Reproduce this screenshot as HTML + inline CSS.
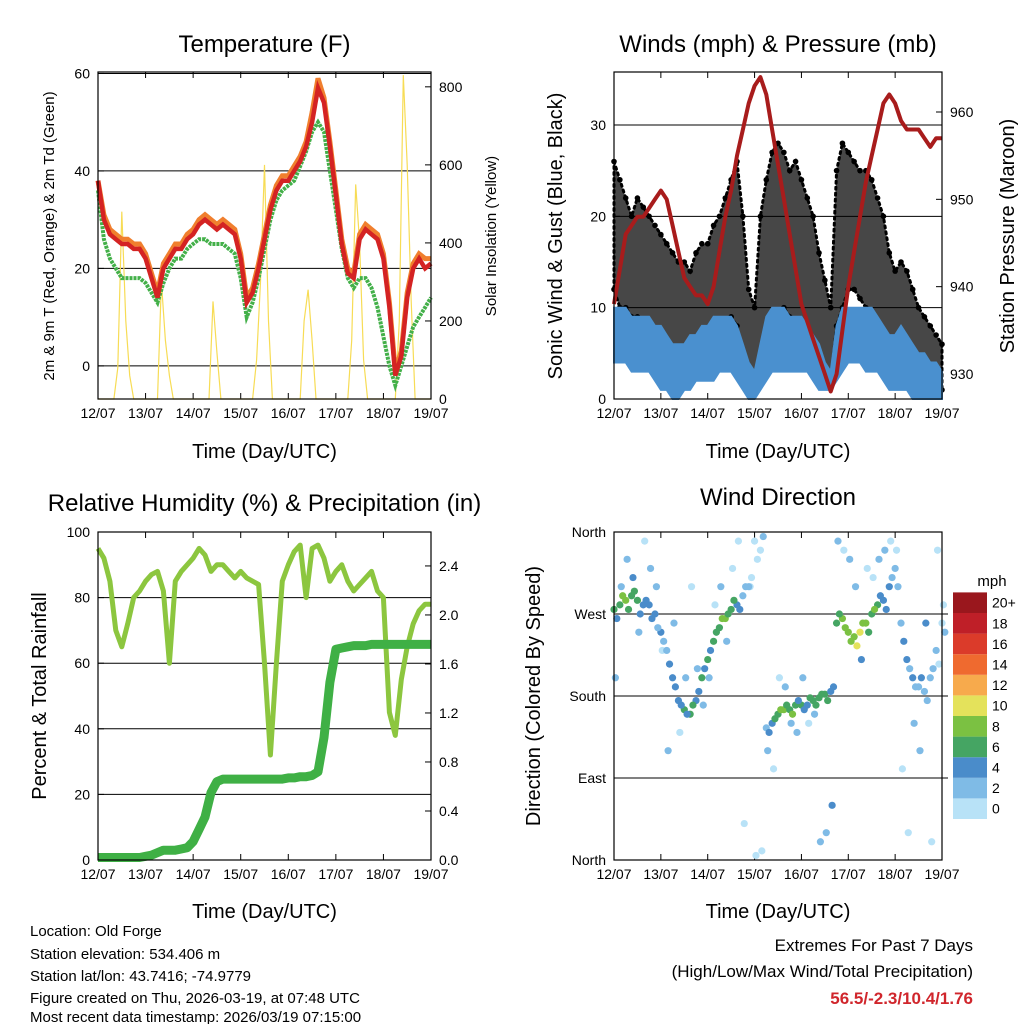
<!DOCTYPE html>
<html><head><meta charset="utf-8">
<style>
body{margin:0;background:#fff;}
svg{display:block;font-family:"Liberation Sans",Arial,sans-serif;}
</style></head>
<body>
<svg id="s" width="1024" height="1024" viewBox="0 0 1024 1024">
<g id="g1"></g>
<g id="g2"></g>
<g id="g3"></g>
<g id="g4"></g>
<g id="txt">
<text x="30" y="936" font-size="15">Location: Old Forge</text>
<text x="30" y="959" font-size="15">Station elevation: 534.406 m</text>
<text x="30" y="981" font-size="15">Station lat/lon: 43.7416; -74.9779</text>
<text x="30" y="1003" font-size="15">Figure created on Thu, 2026-03-19, at 07:48 UTC</text>
<text x="30" y="1025" font-size="15" dy="-3">Most recent data timestamp: 2026/03/19 07:15:00</text>
<text x="973" y="951" font-size="17" text-anchor="end">Extremes For Past 7 Days</text>
<text x="973" y="977" font-size="17" text-anchor="end">(High/Low/Max Wind/Total Precipitation)</text>
<text x="973" y="1004" font-size="17" font-weight="bold" fill="#d0262c" text-anchor="end">56.5/-2.3/10.4/1.76</text>
</g>
</svg>
<script>
const dayLabels=["12/07","13/07","14/07","15/07","16/07","17/07","18/07","19/07"];
// 3-hourly series (57 values, day 12.0 .. 19.0)
const tempT=[38,30,27,26,25,25,24,24, 22,18,14,20,22,24,24,26, 27,29,30,29,28,29,28,27, 22,13,15,20,26,32,36,38, 38,40,42,45,50,57,54,45, 35,25,19,18,26,28,27,26, 22,12,-2,2,14,20,22,20, 21];
const temp9=[38,31,28,27,26,26,25,25, 23,19,15,21,23,25,25,27, 28,30,31,30,29,30,29,28, 23,14,16,21,27,33,37,39, 39,41,43,46,52,59,55,46, 36,26,20,19,27,29,28,27, 23,13,-1,3,15,21,23,22, 22];
const tempTd=[36,26,22,20,18,18,18,18, 17,15,13,17,20,22,22,24, 25,26,26,25,25,25,24,23, 18,10,13,18,24,30,34,36, 37,38,41,44,48,50,48,40, 32,24,18,16,18,18,16,12, 6,0,-4,0,4,8,10,12, 14];
// 2-hourly solar (85 values)
const solar=[0,0,0,0,0,80,480,200,60,0,0,0, 0,0,0,0,300,150,60,0,0,0,0,0, 0,0,0,0,0,250,120,0,0,0,0,0, 0,0,0,0,100,300,600,200,0,0,0,0, 0,0,0,0,200,280,150,0,0,0,0,0, 0,0,0,0,150,550,400,100,0,0,0,0, 0,0,0,0,200,830,600,250,0,0,0,0, 0];
const gustHi=[26,24,22,20,22,21,20,19, 18,17,16,15,15,14,16,17, 17,19,20,22,24,26,20,12, 10,20,24,27,28,27,25,26, 24,22,20,16,13,10,25,28, 27,26,25,25,24,22,20,16, 14,15,14,12,10,9,8,7, 6];
const gustLo=[12,10,10,9,9,8,8,7, 6,5,5,4,3,3,4,5, 6,7,7,8,9,8,4,2, 1,4,6,8,9,10,9,8, 8,6,5,4,2,2,8,10, 12,12,11,10,9,8,6,4, 3,3,3,2,2,2,1,1, 1];
const windHi=[10,10,10,9,9,9,9,8, 8,7,6,6,6,7,7,8, 8,9,9,9,9,8,6,4, 3,6,9,10,10,10,9,9, 9,8,7,6,4,3,8,10, 10,10,10,10,10,9,8,7, 7,8,7,6,5,5,4,4, 3];
const windLo=[4,4,4,3,3,3,3,2, 1,1,0,0,1,1,2,2, 2,2,3,3,3,2,1,0, 0,1,2,3,3,3,3,3, 3,3,2,1,1,1,2,3, 4,4,4,3,3,3,2,1, 1,1,1,0,0,0,0,0, 0];
const pressure=[938,942,946,947,948,948,949,950, 951,950,947,944,941,940,939,939, 938,940,944,948,951,955,958,961, 963,964,962,958,954,950,946,942, 938,936,934,932,930,928,930,935, 940,944,948,952,955,958,961,962, 961,959,958,958,958,957,956,957, 957];
const rh=[95,92,85,70,65,72,80,82, 85,87,88,82,60,85,88,90, 92,95,93,88,90,90,88,86, 88,86,85,84,60,32,60,85, 90,94,96,80,95,96,92,85, 88,90,85,82,84,86,88,82, 80,45,38,55,65,72,76,78, 78];
const precip=[0.02,0.02,0.02,0.02,0.02,0.02,0.02,0.02, 0.03,0.04,0.06,0.08,0.08,0.08,0.09,0.10, 0.15,0.25,0.35,0.55,0.64,0.66,0.66,0.66, 0.66,0.66,0.66,0.66,0.66,0.66,0.66,0.66, 0.67,0.67,0.68,0.68,0.69,0.72,1.00,1.45, 1.72,1.73,1.74,1.75,1.75,1.75,1.76,1.76, 1.76,1.76,1.76,1.76,1.76,1.76,1.76,1.76, 1.76];
const dirA=[275,280,285,290,285,280,280,270, 250,230,200,175,165,160,175,200, 220,240,255,265,275,280,290,300, 350,340,145,150,160,165,165,170, 170,170,175,178,182,185,260,265, 250,245,250,260,270,280,285,300, 320,260,220,200,190,185,200,230, 260];
const spdA=[6,7,8,7,6,5,5,4, 4,3,4,5,6,6,5,6, 6,7,7,8,7,5,3,2, 1,1,3,5,7,8,7,6, 6,5,6,7,6,5,7,9, 8,9,10,8,7,6,5,4, 3,3,4,4,3,3,2,2, 1];
const dirB=[265,290,275,295,270,285,265,255, 240,215,190,170,160,170,185,210, 230,250,265,270,285,275,300,310, 330,355,140,155,165,170,160,175, 165,178,170,182,175,190,270,255, 240,235,260,250,275,290,275,310, 300,240,210,190,200,175,210,215, 250];
const spdB=[5,8,6,6,5,4,4,3, 3,4,5,4,5,7,4,5, 5,6,8,7,6,4,2,1, 0,2,4,6,8,7,8,5, 5,6,7,6,7,4,6,8, 9,10,8,7,8,5,4,3, 2,4,3,3,4,2,3,1, 2];
const dirC=[200,300,330,310,250,350,320,300, 230,120,260,140,200,300,210,170, 200,280,300,240,320,350,40,300, 5,10,120,100,200,190,150,140, 200,150,160,20,30,60,350,340, 330,300,220,320,310,330,340,350, 340,100,30,150,120,260,20,340, 280];
const spdC=[3,2,2,4,2,1,3,2, 1,2,3,1,2,1,3,2, 2,1,3,2,1,0,1,1, 0,1,2,1,1,2,3,2, 3,1,2,3,3,4,3,1, 2,2,4,1,1,3,2,1, 1,0,1,2,3,4,0,1, 0];
const speedBins=["0","2","4","6","8","10","12","14","16","18","20+"];
const binColors=["#b8e2f7","#7fbbe6","#4a8cca","#45a563","#7bc142","#e4e25b","#f7aa4c","#ef6a2f","#db3b2a","#bf1f28","#9a171d"];
const dirLabels=["North","East","South","West","North"];

const NS="http://www.w3.org/2000/svg";
function el(tag,attrs,parent,text){const e=document.createElementNS(NS,tag);for(const k in attrs)e.setAttribute(k,attrs[k]);if(text!==undefined)e.textContent=text;parent.appendChild(e);return e;}
function mkScale(d0,d1,r0,r1){return v=>r0+(v-d0)/(d1-d0)*(r1-r0);}

function frame(g,P,title,titleY,xTitleY){
  const sx=mkScale(0,7,P.x0,P.x1);
  for(let i=0;i<8;i++){
    const x=sx(i);
    const t=el('line',{x1:x,x2:x,y1:P.y1,y2:P.y1-6,stroke:'#000','stroke-width':1},g);
    
    const t2=el('line',{x1:x,x2:x,y1:P.y0,y2:P.y0+6,stroke:'#000','stroke-width':1},g);
    
    const l=el('text',{x:x,y:P.y1+19,'font-size':14,'text-anchor':'middle'},g,dayLabels[i]);
    
  }
  const tt=el('text',{x:(P.x0+P.x1)/2,y:titleY,'font-size':24,'text-anchor':'middle'},g,title);
  
  const xt=el('text',{x:(P.x0+P.x1)/2,y:xTitleY,'font-size':20,'text-anchor':'middle'},g,'Time (Day/UTC)');
  
  return sx;
}
function border(g,P){const b=el('rect',{x:P.x0,y:P.y0,width:P.x1-P.x0,height:P.y1-P.y0,fill:'none',stroke:'#000','stroke-width':1.2},g);}
function yAxis(g,P,sy,vals,labels,side,grid){
  vals.forEach((v,i)=>{
    const y=sy(v);
    if(grid){const gl=el('line',{x1:P.x0,x2:P.x1,y1:y,y2:y,stroke:'#000','stroke-width':1},g);}
    const x=side==='l'?P.x0:P.x1, d=side==='l'?6:-6;
    const tk=el('line',{x1:x,x2:x+d,y1:y,y2:y,stroke:'#000'},g);
    const lb=el('text',{x:side==='l'?x-8:x+8,y:y+5,'font-size':14,'text-anchor':side==='l'?'end':'start'},g,labels[i]);
    
  });
}
function vtitle(g,x,y,size,text,name){const t=el('text',{x:x,y:y,'font-size':size,'text-anchor':'middle',transform:`rotate(-90 ${x} ${y})`},g,text);}
function path(g,xs,ys,attrs,name){let d='';xs.forEach((x,i)=>{d+=(i?'L':'M')+x.toFixed(1)+' '+ys[i].toFixed(1);});const p=el('path',Object.assign({d:d,fill:'none'},attrs),g);return p;}
const t3=i=>i/8, t2h=i=>i/12;

// ---- Panel 1: Temperature
(function(){
  const g=document.getElementById('g1');const P={x0:98,x1:431,y0:72,y1:399};
  const sx=frame(g,P,'Temperature (F)',52,458);
  const sy=mkScale(-6.8,60.3,399,72), sy2=mkScale(0,838,399,72);
  yAxis(g,P,sy,[0,20,40,60],['0','20','40','60'],'l',true);
  yAxis(g,P,sy2,[0,200,400,600,800],['0','200','400','600','800'],'r',false);
  path(g,solar.map((v,i)=>sx(t2h(i))),solar.map(v=>sy2(v)),{stroke:'#f7dc55','stroke-width':1.2},'solar-line');
  path(g,tempTd.map((v,i)=>sx(t3(i))),tempTd.map(v=>sy(v)),{stroke:'#43b049','stroke-width':4,'stroke-dasharray':'3 1'},'dewpoint-line');
  path(g,temp9.map((v,i)=>sx(t3(i))),temp9.map(v=>sy(v)),{stroke:'#f07f2e','stroke-width':5},'temp-9m-line');
  path(g,tempT.map((v,i)=>sx(t3(i))),tempT.map(v=>sy(v)),{stroke:'#d42323','stroke-width':4.5},'temp-2m-line');
  border(g,P);
  vtitle(g,54,236,15,'2m & 9m T (Red, Orange) & 2m Td (Green)','y-axis-title');
  vtitle(g,496,236,15,'Solar Insolation (Yellow)','y2-axis-title');
})();

// ---- Panel 2: Winds & Pressure
(function(){
  const g=document.getElementById('g2');const P={x0:614,x1:942,y0:72,y1:399};
  const sx=frame(g,P,'Winds (mph) & Pressure (mb)',52,458);
  const sy=mkScale(0,35.8,399,72), sy2=mkScale(930,960,374,112);
  yAxis(g,P,sy,[0,10,20,30],['0','10','20','30'],'l',true);
  yAxis(g,P,sy2,[930,940,950,960],['930','940','950','960'],'r',false);
  let d='';gustHi.forEach((v,i)=>{d+=(i?'L':'M')+sx(t3(i)).toFixed(1)+' '+sy(v).toFixed(1);});
  for(let i=gustLo.length-1;i>=0;i--)d+='L'+sx(t3(i)).toFixed(1)+' '+sy(gustLo[i]).toFixed(1);
  const gb=el('path',{d:d+'Z',fill:'#000','fill-opacity':0.72,stroke:'#000','stroke-width':3,'stroke-dasharray':'2 4','stroke-linecap':'round'},g);
  [gustHi,gustLo].forEach(arr=>arr.forEach((v,i)=>{const c=el('circle',{cx:sx(t3(i)),cy:sy(v),r:2.8,fill:'#000'},g);}));
  let d2='';windHi.forEach((v,i)=>{d2+=(i?'L':'M')+sx(t3(i)).toFixed(1)+' '+sy(v).toFixed(1);});
  for(let i=windLo.length-1;i>=0;i--)d2+='L'+sx(t3(i)).toFixed(1)+' '+sy(windLo[i]).toFixed(1);
  const wb=el('path',{d:d2+'Z',fill:'#4a90cf',stroke:'#4a90cf','stroke-width':2},g);
  path(g,pressure.map((v,i)=>sx(t3(i))),pressure.map(v=>sy2(v)),{stroke:'#a81c1c','stroke-width':4,'stroke-linejoin':'round'},'pressure-line');
  border(g,P);
  vtitle(g,562,236,20,'Sonic Wind & Gust (Blue, Black)','y-axis-title');
  vtitle(g,1014,236,20,'Station Pressure (Maroon)','y2-axis-title');
})();

// ---- Panel 3: Humidity & Precip
(function(){
  const g=document.getElementById('g3');const P={x0:98,x1:431,y0:532,y1:860};
  const sx=frame(g,P,'Relative Humidity (%) & Precipitation (in)',511,918);
  const sy=mkScale(0,100,860,532), sy2=mkScale(0,2.677,860,532);
  yAxis(g,P,sy,[0,20,40,60,80,100],['0','20','40','60','80','100'],'l',true);
  yAxis(g,P,sy2,[0,0.4,0.8,1.2,1.6,2.0,2.4],['0.0','0.4','0.8','1.2','1.6','2.0','2.4'],'r',false);
  path(g,rh.map((v,i)=>sx(t3(i))),rh.map(v=>sy(v)),{stroke:'#8cc63f','stroke-width':5,'stroke-linejoin':'round'},'humidity-line');
  path(g,precip.map((v,i)=>sx(t3(i))),precip.map(v=>sy2(v)),{stroke:'#3fb045','stroke-width':9,'stroke-linejoin':'round'},'precip-line');
  border(g,P);
  vtitle(g,46,696,20,'Percent & Total Rainfall','y-axis-title');
})();

// ---- Panel 4: Wind direction
(function(){
  const g=document.getElementById('g4');const P={x0:614,x1:942,y0:532,y1:860};
  const sx=frame(g,P,'Wind Direction',505,918);
  const sy=mkScale(0,360,860,532);
  const dv=[0,90,180,270,360];
  dv.forEach((v,i)=>{const y=sy(v);
    if(i>0&&i<4){const gl=el('line',{x1:P.x0,x2:P.x1+6,y1:y,y2:y,stroke:'#000'},g);}
    const lb=el('text',{x:P.x0-8,y:y+5,'font-size':14,'text-anchor':'end'},g,dirLabels[i]);});
  const col=s=>binColors[Math.max(0,Math.min(10,Math.floor(s/2)))];
  [[dirC,spdC],[dirA,spdA],[dirB,spdB]].forEach(([ds,ss])=>ds.forEach((v,i)=>{
    const c=el('circle',{cx:sx(t3(i)+(ds===dirB?0.06:ds===dirC?0.03:0)),cy:sy(v),r:3.6,fill:col(ss[i])},g);
    }));
  border(g,P);
  vtitle(g,540,696,20,'Direction (Colored By Speed)','y-axis-title');
  const lg=el('g',{},g);
  const lt=el('text',{x:992,y:586,'font-size':15,'text-anchor':'middle'},lg,'mph');
  const bh=20.6;
  speedBins.forEach((b,i)=>{const y=819-(i+1)*bh;
    const r=el('rect',{x:953,y:y,width:34,height:bh,fill:binColors[i]},lg);
    const t=el('text',{x:992,y:y+bh/2+5,'font-size':14},lg,b);});
})();
</script>
</body></html>
